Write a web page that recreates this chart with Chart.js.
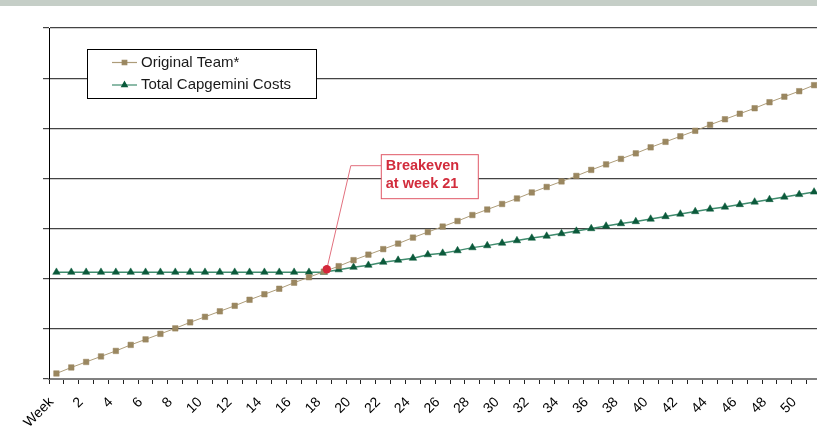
<!DOCTYPE html>
<html>
<head>
<meta charset="utf-8">
<script src="https://cdn.jsdelivr.net/npm/chart.js@4.4.0/dist/chart.umd.min.js"></script>
<style>
  html, body { margin: 0; padding: 0; background: #fff; overflow: hidden; }
  #band { position: absolute; left: 0; top: 0; width: 817px; height: 6px; background: #c5cec7; z-index: 2; }
  #wrap { position: absolute; left: 0; top: 0; width: 836px; height: 434px; }
</style>
</head>
<body>
<div id="band"></div>
<div id="wrap"><canvas id="chart" width="836" height="434"></canvas></div>
<script>
// DATA
const weeks = ['Week', '1', '2', '3', '4', '5', '6', '7', '8', '9', '10',
  '11', '12', '13', '14', '15', '16', '17', '18', '19', '20',
  '21', '22', '23', '24', '25', '26', '27', '28', '29', '30',
  '31', '32', '33', '34', '35', '36', '37', '38', '39', '40',
  '41', '42', '43', '44', '45', '46', '47', '48', '49', '50', '51'];

const originalTeam = [11, 23, 34, 45, 56, 68, 79, 90, 101, 113, 124, 135, 146, 158, 169, 180, 192, 203,
  214, 225, 237, 248, 259, 270, 282, 293, 304, 315, 327, 338, 349, 360, 372, 383, 394, 405, 417, 428,
  439, 450, 462, 473, 484, 495, 507, 518, 529, 540, 552, 563, 574, 586];

const capgeminiCosts = [213, 213, 213, 213, 213, 213, 213, 213, 213, 213, 213, 213, 213, 213, 213, 213, 213, 213,
  213, 218, 223, 227, 233, 237, 241, 248, 251, 256, 262, 266, 271, 276, 281, 285, 290, 295, 300, 305,
  310, 314, 319, 324, 329, 334, 339, 343, 348, 353, 358, 363, 368, 373];

// breakeven marker: position along the week axis (category index) and value
const breakevenPos = 18.2;
const breakevenValue = 219;
const breakevenText = ['Breakeven', 'at week 21'];

const FONT = '"Liberation Sans", Arial, sans-serif';

function breakevenPixel(chart) {
    const xs = chart.scales.x, ys = chart.scales.y;
    const i = Math.floor(breakevenPos);
    const x0 = xs.getPixelForValue(i), x1 = xs.getPixelForValue(i + 1);
    return { x: x0 + (x1 - x0) * (breakevenPos - i), y: ys.getPixelForValue(breakevenValue) };
}

// annotation box + leader line (under the series)
const breakevenNote = {
    id: 'breakevenNote',
    beforeDatasetsDraw(chart) {
        const ctx = chart.ctx;
        const p = breakevenPixel(chart);
        const bx = p.x + 54.5, by = p.y - 114.5, bw = 97, bh = 44;
        ctx.save();
        ctx.strokeStyle = '#e2707e';
        ctx.lineWidth = 1;
        ctx.beginPath();
        ctx.moveTo(p.x, p.y);
        ctx.lineTo(p.x + 24, by + 11);
        ctx.lineTo(bx, by + 11);
        ctx.stroke();
        ctx.fillStyle = '#fff';
        ctx.fillRect(bx, by, bw, bh);
        ctx.strokeStyle = '#e05866';
        ctx.strokeRect(bx, by, bw, bh);
        ctx.fillStyle = '#d22c3c';
        ctx.font = 'bold 14.5px ' + FONT;
        ctx.textBaseline = 'middle';
        ctx.fillText(breakevenText[0], bx + 4.5, by + 11);
        ctx.fillText(breakevenText[1], bx + 4.5, by + 29);
        ctx.restore();
    },
    afterDatasetsDraw(chart) {
        const ctx = chart.ctx;
        const p = breakevenPixel(chart);
        ctx.save();
        ctx.fillStyle = '#d4273a';
        ctx.beginPath();
        ctx.arc(p.x, p.y, 4.2, 0, Math.PI * 2);
        ctx.fill();
        ctx.restore();
    }
};

// boxed legend in the top left
const boxLegend = {
    id: 'boxLegend',
    afterDraw(chart) {
        const ctx = chart.ctx;
        const x = 87, y = 49, w = 229, h = 49;
        ctx.save();
        ctx.fillStyle = '#fff';
        ctx.fillRect(x, y, w, h);
        ctx.strokeStyle = '#000';
        ctx.lineWidth = 1;
        ctx.strokeRect(x + 0.5, y + 0.5, w, h);
        chart.data.datasets.forEach((ds, row) => {
            const cy = y + 13.5 + row * 22.5;
            ctx.strokeStyle = ds.borderColor;
            ctx.lineWidth = 1.2;
            ctx.beginPath();
            ctx.moveTo(x + 25, cy);
            ctx.lineTo(x + 50, cy);
            ctx.stroke();
            ctx.fillStyle = ds.pointBackgroundColor;
            ctx.strokeStyle = ds.pointBackgroundColor;
            Chart.helpers.drawPoint(ctx, { pointStyle: ds.pointStyle, rotation: 0, radius: 3.2, borderWidth: 0.5 }, x + 37.5, cy);
            ctx.fillStyle = '#1a1a1a';
            ctx.font = '15px ' + FONT;
            ctx.textBaseline = 'middle';
            ctx.fillText(ds.label, x + 54, cy);
        });
        ctx.restore();
    }
};

const ctx = document.getElementById('chart').getContext('2d');
const chart = new Chart(ctx, {
    type: 'line',
    data: {
        labels: weeks,
        datasets: [{
            label: 'Original Team*',
            data: originalTeam,
            borderColor: '#ad9c79',
            borderWidth: 1,
            pointStyle: 'rect',
            pointRadius: 3.9,
            pointBackgroundColor: '#9a8760',
            pointBorderColor: '#9a8760',
            pointBorderWidth: 0.5,
            tension: 0,
        }, {
            label: 'Total Capgemini Costs',
            data: capgeminiCosts,
            borderColor: '#3f8b6d',
            borderWidth: 1.5,
            pointStyle: 'triangle',
            pointRadius: 4.3,
            pointBackgroundColor: '#0b5a3b',
            pointBorderColor: '#0b5a3b',
            pointBorderWidth: 0.5,
            tension: 0,
        }]
    },
    options: {
        responsive: false,
        animation: false,
        layout: { padding: { top: 28, left: 0, right: 0, bottom: 0 } },
        plugins: {
            legend: { display: false },
            tooltip: { enabled: false },
        },
        scales: {
            x: {
                offset: true,
                grid: {
                    drawOnChartArea: false,
                    offset: true,
                    tickLength: 5,
                    color: '#222',
                },
                border: { color: '#808080', width: 2 },
                ticks: {
                    autoSkip: false,
                    maxRotation: 45,
                    minRotation: 45,
                    padding: 10,
                    labelOffset: -5,
                    color: '#000',
                    font: { family: FONT, size: 14 },
                    callback: (v, i) => i % 2 === 0 ? weeks[i] : '',
                },
                afterFit: (s) => { s.height = 55; },
            },
            y: {
                min: 0,
                max: 700,
                ticks: { stepSize: 100, display: false },
                grid: { color: '#444', lineWidth: 1.2, tickLength: 6 },
                border: { color: '#000', width: 1 },
                afterFit: (s) => { s.width = 49; },
            },
        },
        clip: false,
    },
    plugins: [breakevenNote, boxLegend]
});
</script>
</body>
</html>
